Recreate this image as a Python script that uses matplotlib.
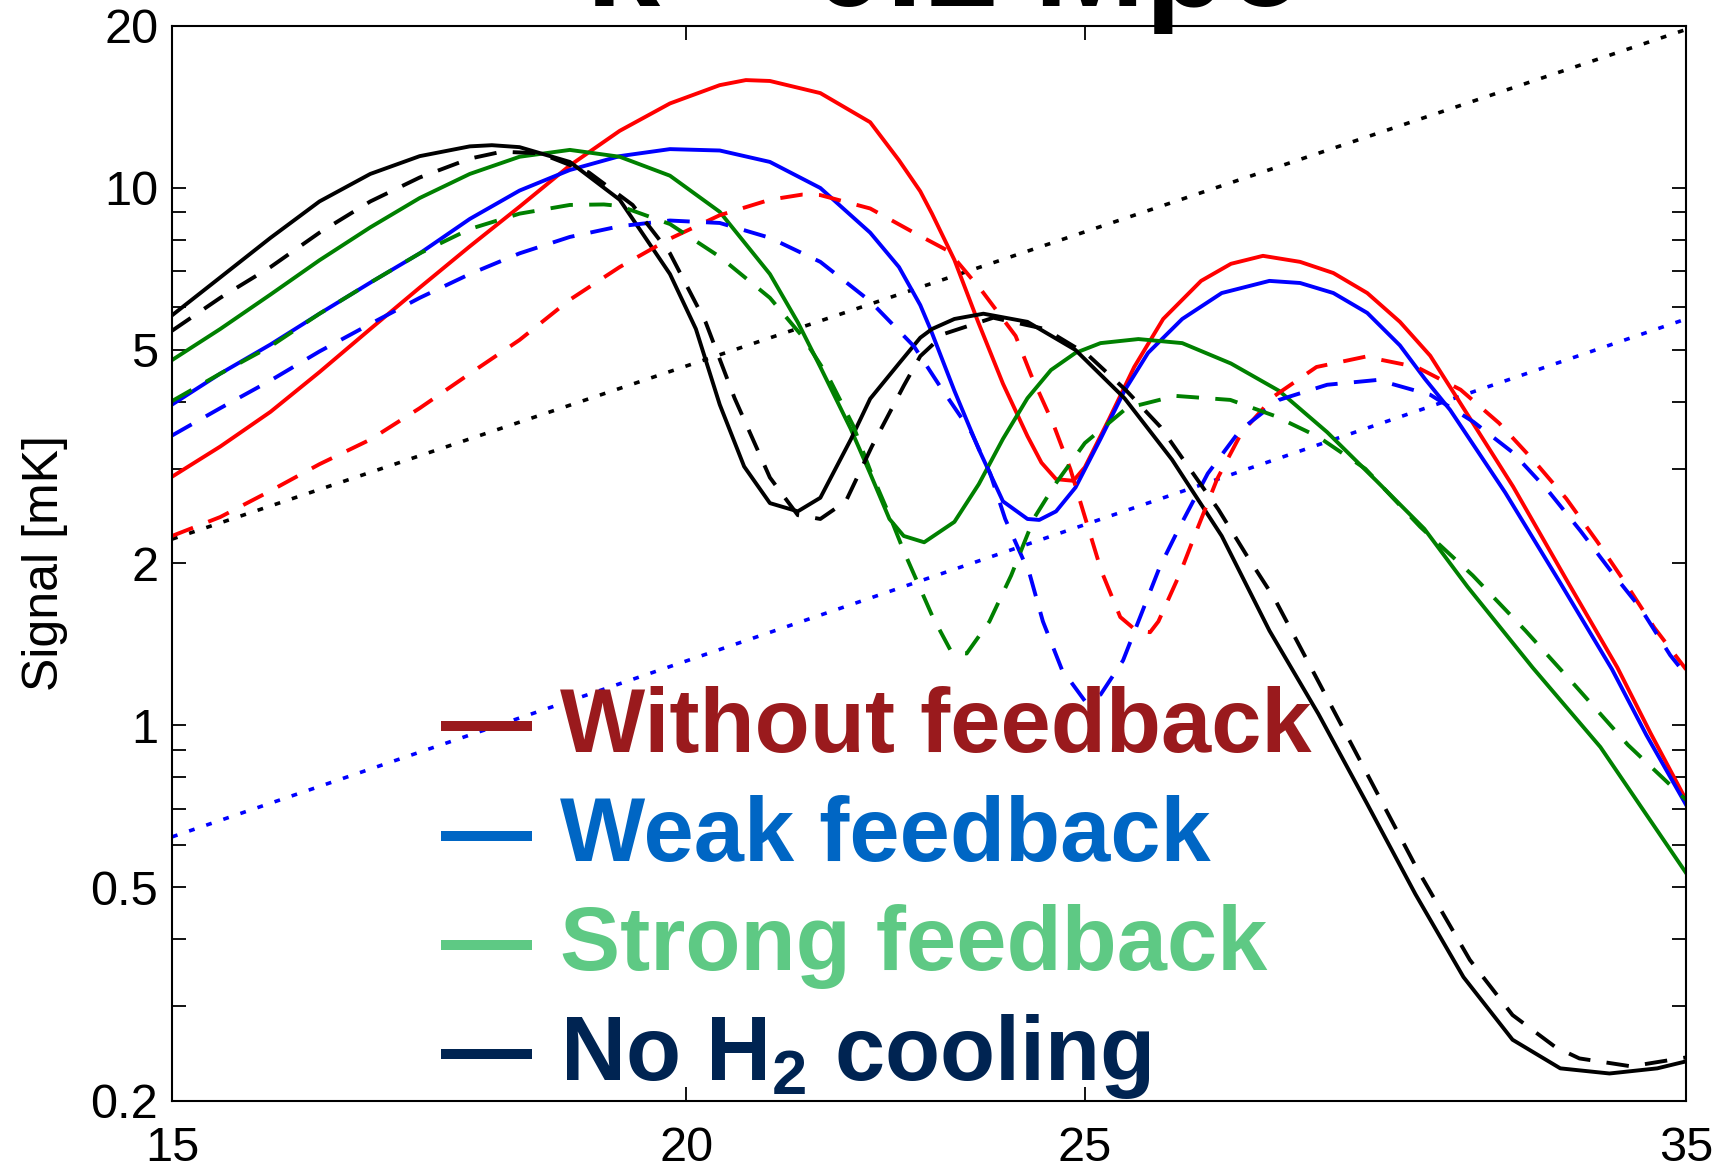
import matplotlib.pyplot as plt
from matplotlib.ticker import FixedLocator, FixedFormatter, NullFormatter, NullLocator

# redshift grid / signal [mK] for each model, solid = one estimate, dashed = the other
red_solid_z = [15.00, 15.41, 15.85, 16.29, 16.76, 17.23, 17.72, 18.22, 18.74, 19.27, 19.82, 20.38,
               20.68, 20.96, 21.56, 22.17, 22.53, 22.80, 22.95, 23.24, 23.55, 23.88, 24.21, 24.40,
               24.60, 24.84, 25.00, 25.34, 25.70, 26.12, 26.68, 27.13, 27.62, 28.20, 28.73, 29.28,
               29.82, 30.33, 30.81, 31.77, 32.74, 33.68, 34.31, 35.00]
red_solid_T = [2.90, 3.30, 3.83, 4.54, 5.46, 6.52, 7.78, 9.22, 11.0, 12.76, 14.35, 15.52,
               15.86, 15.80, 15.0, 13.24, 11.25, 9.85, 8.95, 7.34, 5.63, 4.32, 3.45, 3.08,
               2.87, 2.85, 3.02, 3.71, 4.64, 5.70, 6.71, 7.22, 7.47, 7.28, 6.94, 6.37,
               5.63, 4.87, 4.03, 2.78, 1.86, 1.28, 0.967, 0.726]

red_dash_z = [15.00, 15.41, 15.85, 16.29, 16.76, 17.23, 17.72, 18.22, 18.74, 19.27, 19.82, 20.38,
              20.96, 21.34, 21.56, 22.17, 22.72, 23.16, 23.60, 24.05, 24.26, 24.56, 24.80, 25.23,
              25.50, 25.73, 25.93, 26.05, 26.37, 26.63, 26.92, 27.29, 27.80, 28.46, 29.25, 30.10,
              30.85, 31.52, 32.16, 32.73, 33.31, 33.83, 34.38, 35.00]
red_dash_T = [2.25, 2.44, 2.73, 3.06, 3.40, 3.89, 4.51, 5.21, 6.19, 7.12, 8.04, 8.89,
              9.50, 9.71, 9.69, 9.15, 8.25, 7.63, 6.43, 5.30, 4.48, 3.64, 2.99, 1.94,
              1.59, 1.50, 1.49, 1.56, 1.92, 2.33, 2.87, 3.50, 4.10, 4.64, 4.85, 4.64,
              4.21, 3.65, 3.09, 2.64, 2.19, 1.84, 1.52, 1.27]

blue_solid_z = [15.00, 15.41, 15.85, 16.29, 16.76, 17.23, 17.72, 18.22, 18.74, 19.27, 19.82, 20.38,
                20.96, 21.56, 22.17, 22.53, 22.80, 22.93, 23.24, 23.56, 23.88, 24.21, 24.37, 24.60,
                24.87, 25.22, 25.56, 25.90, 26.40, 26.99, 27.72, 28.20, 28.73, 29.28, 29.82, 30.24,
                30.67, 31.63, 32.62, 33.58, 34.23, 35.00]
blue_solid_T = [3.95, 4.51, 5.11, 5.83, 6.66, 7.55, 8.75, 9.88, 10.79, 11.45, 11.80, 11.73,
                11.17, 9.99, 8.25, 7.12, 6.05, 5.46, 4.19, 3.26, 2.61, 2.42, 2.41, 2.50,
                2.77, 3.41, 4.19, 4.93, 5.70, 6.37, 6.71, 6.65, 6.37, 5.85, 5.09, 4.41,
                3.86, 2.71, 1.84, 1.27, 0.959, 0.711]

blue_dash_z = [15.00, 15.41, 15.85, 16.29, 16.76, 17.23, 17.72, 18.22, 18.74, 19.27, 19.82, 20.38,
               20.96, 21.56, 22.17, 22.72, 23.05, 23.46, 23.71, 23.91, 24.24, 24.42, 24.68, 25.00,
               25.22, 25.54, 25.81, 26.07, 26.34, 26.78, 27.27, 27.87, 28.63, 29.45, 30.33, 31.07,
               31.76, 32.40, 32.99, 33.55, 34.12, 34.69, 35.00]
blue_dash_T = [3.46, 3.89, 4.38, 4.96, 5.58, 6.24, 6.91, 7.55, 8.10, 8.48, 8.69, 8.60,
               8.07, 7.28, 6.15, 5.07, 4.28, 3.51, 2.94, 2.42, 1.91, 1.56, 1.27, 1.11,
               1.14, 1.32, 1.62, 1.97, 2.31, 2.94, 3.54, 4.03, 4.30, 4.39, 4.12, 3.67,
               3.22, 2.73, 2.30, 1.94, 1.65, 1.35, 1.24]

green_solid_z = [15.00, 15.41, 15.85, 16.29, 16.76, 17.23, 17.72, 18.22, 18.74, 19.27, 19.82, 20.38,
                 20.96, 21.29, 21.56, 21.93, 22.17, 22.41, 22.59, 22.85, 23.24, 23.56, 23.88, 24.21,
                 24.53, 24.87, 25.22, 25.76, 26.40, 27.13, 27.87, 28.63, 29.43, 30.23, 30.97, 32.12,
                 33.36, 35.00]
green_solid_T = [4.78, 5.46, 6.33, 7.33, 8.44, 9.57, 10.61, 11.42, 11.76, 11.42, 10.53, 9.02,
                 6.91, 5.62, 4.64, 3.56, 2.94, 2.42, 2.25, 2.19, 2.39, 2.81, 3.41, 4.06,
                 4.58, 4.93, 5.14, 5.23, 5.14, 4.71, 4.19, 3.51, 2.85, 2.32, 1.81, 1.28,
                 0.911, 0.531]

green_dash_z = [15.00, 15.41, 15.85, 16.29, 16.76, 17.23, 17.72, 18.22, 18.74, 19.10, 19.27, 19.82,
                20.38, 20.96, 21.34, 21.66, 21.96, 22.17, 22.41, 22.59, 22.96, 23.20, 23.40, 23.70,
                23.99, 24.30, 24.59, 25.00, 25.59, 26.30, 27.12, 27.81, 28.49, 29.25, 30.16, 31.06,
                31.99, 32.91, 33.88, 35.00]
green_dash_T = [4.01, 4.51, 5.07, 5.83, 6.66, 7.55, 8.38, 8.95, 9.29, 9.31, 9.25, 8.56,
                7.44, 6.24, 5.30, 4.44, 3.61, 2.98, 2.46, 2.11, 1.59, 1.37, 1.36, 1.56,
                1.90, 2.43, 2.81, 3.35, 3.89, 4.10, 4.03, 3.76, 3.44, 3.00, 2.34, 1.90,
                1.50, 1.18, 0.919, 0.726]

black_solid_z = [15.00, 15.41, 15.85, 16.29, 16.76, 17.23, 17.72, 17.94, 18.22, 18.74, 19.27, 19.82,
                 20.11, 20.38, 20.66, 20.96, 21.29, 21.56, 21.93, 22.17, 22.53, 22.80, 22.95, 23.24,
                 23.62, 24.21, 24.87, 25.56, 26.25, 26.99, 27.72, 28.49, 29.27, 30.08, 30.90, 31.76,
                 32.62, 33.53, 34.44, 35.00]
black_solid_T = [5.79, 6.81, 8.07, 9.43, 10.61, 11.45, 11.94, 12.0, 11.9, 11.17, 9.50, 6.91,
                 5.46, 3.95, 3.03, 2.59, 2.50, 2.65, 3.40, 4.05, 4.71, 5.26, 5.46, 5.70,
                 5.83, 5.63, 4.99, 4.06, 3.12, 2.25, 1.50, 1.05, 0.717, 0.485, 0.340, 0.260,
                 0.230, 0.225, 0.230, 0.237]

black_dash_z = [15.00, 15.41, 15.85, 16.29, 16.76, 17.23, 17.72, 18.04, 18.43, 18.94, 19.41, 19.82,
                20.22, 20.55, 20.96, 21.29, 21.56, 21.87, 22.19, 22.59, 22.80, 23.11, 23.75, 24.45,
                25.04, 25.59, 26.08, 26.52, 26.94, 27.37, 27.80, 28.55, 29.32, 30.11, 31.01, 31.76,
                32.53, 32.97, 33.94, 35.00]
black_dash_T = [5.42, 6.24, 7.12, 8.25, 9.43, 10.45, 11.33, 11.67, 11.59, 10.68, 9.29, 7.55,
                5.62, 4.06, 2.89, 2.46, 2.42, 2.61, 3.30, 4.28, 4.86, 5.35, 5.73, 5.46,
                4.89, 4.19, 3.59, 2.99, 2.52, 2.07, 1.72, 1.17, 0.795, 0.540, 0.366, 0.289,
                0.252, 0.240, 0.232, 0.241]

# power-law reference lines (straight on log-log)
dot_z = [15, 35]
black_dot_T = [2.22, 19.7]
blue_dot_T = [0.62, 5.7]

xticks = [15, 20, 25, 35]
yticks = [0.2, 0.5, 1, 2, 5, 10, 20]
ytick_labels = ['0.2', '0.5', '1', '2', '5', '10', '20']
yminor = [0.3, 0.4, 0.6, 0.7, 0.8, 0.9, 3, 4, 6, 7, 8, 9]

labels = ['Without feedback', 'Weak feedback', 'Strong feedback', 'No H$_2$ cooling']
label_colors = ['#9a1a1d', '#0066c4', '#5ec984', '#002452']

plt.rcParams['font.family'] = ['Liberation Sans', 'DejaVu Sans']
plt.rcParams['mathtext.fontset'] = 'custom'
plt.rcParams['mathtext.rm'] = 'Liberation Sans:bold'
plt.rcParams['mathtext.it'] = 'Liberation Sans:bold'
plt.rcParams['mathtext.bf'] = 'Liberation Sans:bold'

fig = plt.figure(figsize=(17.29, 11.74), dpi=100)
ax = fig.add_axes([0.0995, 0.0622, 0.8757, 0.9157])

lw = 2.8
dash = (0, (5.8, 4.2))
dot = (0, (1.6, 3.4))

ax.plot(dot_z, black_dot_T, color='black', lw=2.6, linestyle=dot)
ax.plot(dot_z, blue_dot_T, color='blue', lw=2.6, linestyle=dot)

ax.plot(red_solid_z, red_solid_T, color='red', lw=lw)
ax.plot(blue_solid_z, blue_solid_T, color='blue', lw=lw)
ax.plot(green_solid_z, green_solid_T, color='green', lw=lw)
ax.plot(black_solid_z, black_solid_T, color='black', lw=lw)

# dashed versions go on top of the solid ones
ax.plot(red_dash_z, red_dash_T, color='red', lw=lw, linestyle=dash)
ax.plot(blue_dash_z, blue_dash_T, color='blue', lw=lw, linestyle=dash)
ax.plot(green_dash_z, green_dash_T, color='green', lw=lw, linestyle=dash)
ax.plot(black_dash_z, black_dash_T, color='black', lw=lw, linestyle=dash)

ax.set_xscale('log')
ax.set_yscale('log')
ax.set_xlim(15, 35)
ax.set_ylim(0.2, 20)

ax.xaxis.set_major_locator(FixedLocator(xticks))
ax.xaxis.set_major_formatter(FixedFormatter([str(t) for t in xticks]))
ax.xaxis.set_minor_locator(NullLocator())
ax.yaxis.set_major_locator(FixedLocator(yticks))
ax.yaxis.set_major_formatter(FixedFormatter(ytick_labels))
ax.yaxis.set_minor_locator(FixedLocator(yminor))
ax.yaxis.set_minor_formatter(NullFormatter())

ax.tick_params(which='both', direction='in', top=True, right=True, length=10, width=1.3,
               labelsize=35)
ax.tick_params(axis='x', pad=18)
ax.tick_params(axis='y', pad=10)
for s in ax.spines.values():
    s.set_linewidth(1.5)

ax.set_ylabel('Signal [mK]', fontsize=36)
ax.yaxis.set_label_coords(-0.069, 0.5)

# hand-made legend with coloured labels
for i, (lab, c) in enumerate(zip(labels, label_colors)):
    y = 0.3484 - i * 0.1016
    ax.plot([0.1777, 0.2378], [y, y], transform=ax.transAxes, color=c, lw=7.2,
            solid_capstyle='butt', zorder=5)
    ax.text(0.2563, y - 0.0237, lab, transform=ax.transAxes, color=c, fontsize=65,
            fontweight='bold', ha='left', va='baseline', zorder=6)

# panel title, mostly above the top edge
fig.text(0.3383, 0.9943, 'k = 0.1 Mpc$^{-1}$', fontsize=96, fontweight='bold',
         ha='left', va='baseline')

fig.savefig('out.png', dpi=100)
